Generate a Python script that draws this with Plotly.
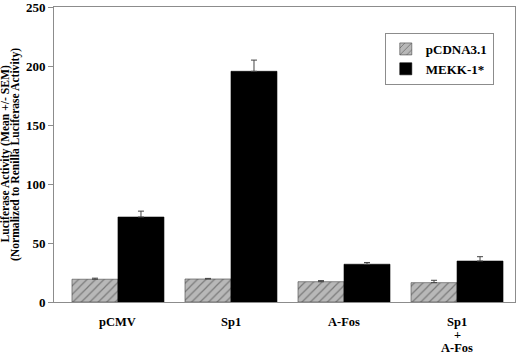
import plotly.graph_objects as go

categories = ["pCMV", "Sp1", "A-Fos", "Sp1\n+\nA-Fos"]
pcdna_vals = [19.3, 19.5, 17.2, 16.4]
pcdna_err = [0.9, 0.5, 0.9, 2.0]
mekk_vals = [72, 195.5, 32, 34.7]
mekk_err = [5, 9.5, 1.5, 3.7]
y_ticks = [0, 50, 100, 150, 200, 250]
y_title_lines = ["Luciferase Activity (Mean +/- SEM)",
                 "(Normalized to Renilla Luciferase Activity)"]

FONT = "Liberation Serif, Times New Roman, serif"
AX = "#8c8c8c"

fig = go.Figure()
fig.add_trace(go.Bar(
    x=categories, y=pcdna_vals, name="pCDNA3.1",
    marker=dict(color="#b8b8b8", line=dict(color="#444444", width=0.6),
                pattern=dict(shape="/", fgcolor="#3a3a3a", bgcolor="#b8b8b8",
                             size=6, solidity=0.2)),
    error_y=dict(type="data", array=pcdna_err, symmetric=False, arrayminus=[0] * 4,
                 color="#444444", thickness=1, width=3),
))
fig.add_trace(go.Bar(
    x=categories, y=mekk_vals, name="MEKK-1*",
    marker=dict(color="black", line=dict(color="black", width=0.6)),
    error_y=dict(type="data", array=mekk_err, symmetric=False, arrayminus=[0] * 4,
                 color="#444444", thickness=1, width=3),
))

annotations = []
# category labels with tight line spacing
for cat in categories:
    for i, line in enumerate(cat.split("\n")):
        annotations.append(dict(
            x=cat, y=0, xref="x", yref="paper", text=line, showarrow=False,
            xanchor="center", yanchor="middle", yshift=-20 - 12.8 * i,
            font=dict(family=FONT, size=12.5, color="black", weight="bold")))
# y-axis title lines
for i, line in enumerate(y_title_lines):
    annotations.append(dict(
        x=0, y=0.5, xref="paper", yref="paper", text=line, showarrow=False,
        textangle=-90, xanchor="center", yanchor="middle", xshift=-49 + 10.5 * i,
        font=dict(family=FONT, size=11.6, color="black", weight="bold")))

fig.update_layout(
    width=520, height=354,
    margin=dict(l=54, r=5, t=7, b=52, autoexpand=False),
    paper_bgcolor="white", plot_bgcolor="white",
    barmode="group", bargap=0.186, bargroupgap=0,
    font=dict(family=FONT, color="black", size=13),
    showlegend=True,
    legend=dict(x=0.954, y=0.912, xanchor="right", yanchor="top",
                bordercolor=AX, borderwidth=1, bgcolor="white",
                font=dict(family=FONT, size=13, color="black", weight="bold"),
                tracegroupgap=0),
    xaxis=dict(type="category", range=[-0.566, 3.513], automargin=False,
               showline=True, linecolor=AX, linewidth=1, mirror=True,
               ticks="", showticklabels=False, showgrid=False),
    yaxis=dict(range=[0, 250], tickvals=y_ticks, automargin=False,
               showline=True, linecolor=AX, linewidth=1, mirror=True,
               ticks="outside", ticklen=5, tickcolor=AX,
               showgrid=False, zeroline=False, ticklabeloverflow="allow",
               tickfont=dict(family=FONT, size=13, weight="bold")),
    annotations=annotations,
)

fig.write_html("out.html", config={"displayModeBar": False},
               post_script="document.body.style.margin='0';document.body.style.overflow='hidden';")
